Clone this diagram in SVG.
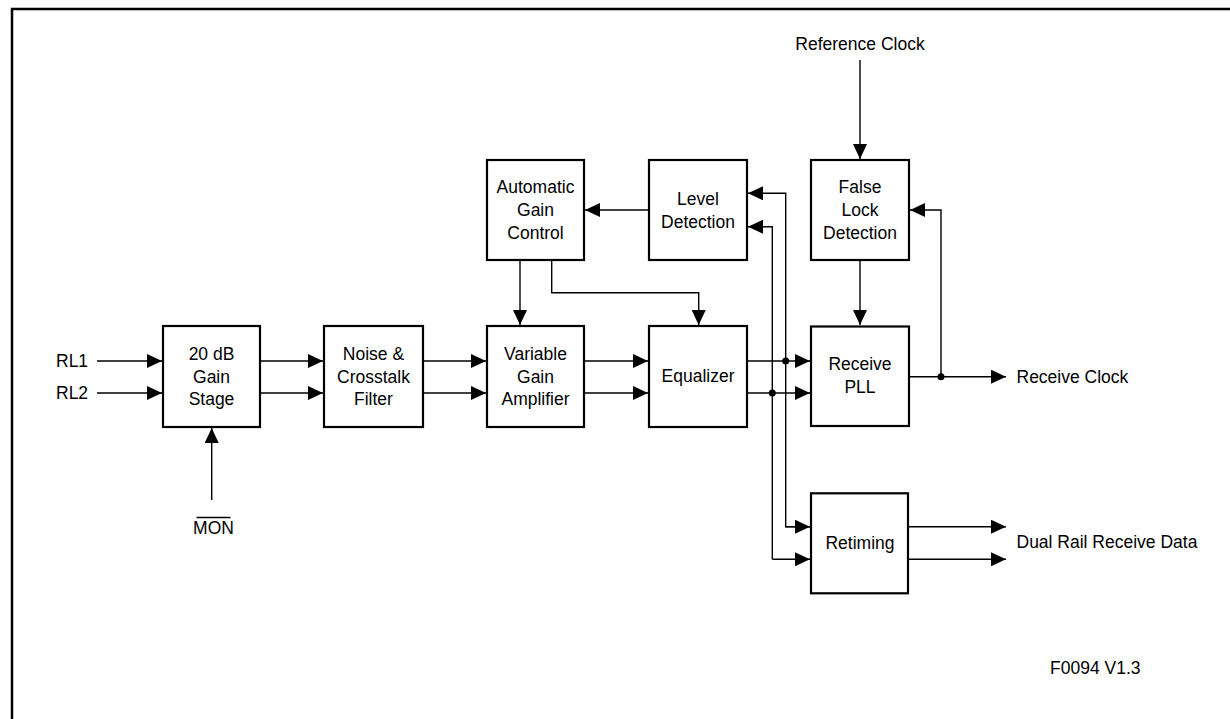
<svg xmlns="http://www.w3.org/2000/svg" width="1230" height="719" viewBox="0 0 1230 719">
<style>
text{font-family:"Liberation Sans",Arial,sans-serif;font-size:17.5px;fill:#000}
.c{text-anchor:middle}
.box{fill:#fff;stroke:#000;stroke-width:2.2}
.ln{fill:none;stroke:#000;stroke-width:1.4}
</style>
<defs>
<marker id="ah" markerUnits="userSpaceOnUse" markerWidth="16" markerHeight="14" refX="15" refY="7" orient="auto">
<path d="M0,0 L15,7 L0,14 z" fill="#000"/>
</marker>
</defs>
<rect x="0" y="0" width="1230" height="719" fill="#fff"/>
<rect x="12" y="9" width="1240" height="740" fill="none" stroke="#000" stroke-width="2.5"/>

<g id="connectors">
<path class="ln" d="M97,361H162" marker-end="url(#ah)"/>
<path class="ln" d="M97,393H162" marker-end="url(#ah)"/>
<path class="ln" d="M260,361H323" marker-end="url(#ah)"/>
<path class="ln" d="M260,393H323" marker-end="url(#ah)"/>
<path class="ln" d="M423,361H486" marker-end="url(#ah)"/>
<path class="ln" d="M423,393H486" marker-end="url(#ah)"/>
<path class="ln" d="M584,361H648" marker-end="url(#ah)"/>
<path class="ln" d="M584,393H648" marker-end="url(#ah)"/>
<path class="ln" d="M747,361H810" marker-end="url(#ah)"/>
<path class="ln" d="M747,393H810" marker-end="url(#ah)"/>
<path class="ln" d="M211.7,500V428" marker-end="url(#ah)"/>
<path class="ln" d="M649,210H585" marker-end="url(#ah)"/>
<path class="ln" d="M520,260V325" marker-end="url(#ah)"/>
<path class="ln" d="M551.7,260V292.7H698.7V325" marker-end="url(#ah)"/>
<path class="ln" d="M811,526.7H785.7V193.3H748" marker-end="url(#ah)"/>
<path class="ln" d="M785.7,526.7H810" marker-end="url(#ah)"/>
<path class="ln" d="M772.3,559.3V226.7H748" marker-end="url(#ah)"/>
<path class="ln" d="M772.3,559.3H810" marker-end="url(#ah)"/>
<path class="ln" d="M860,60V159" marker-end="url(#ah)"/>
<path class="ln" d="M860,260V325" marker-end="url(#ah)"/>
<path class="ln" d="M909,376.7H1006" marker-end="url(#ah)"/>
<path class="ln" d="M941,376.7V210H910" marker-end="url(#ah)"/>
<path class="ln" d="M908,526.7H1006" marker-end="url(#ah)"/>
<path class="ln" d="M908,559.3H1006" marker-end="url(#ah)"/>
<circle cx="785.7" cy="361" r="3.5" fill="#000"/>
<circle cx="772.3" cy="393" r="3.5" fill="#000"/>
<circle cx="941" cy="376.7" r="3.5" fill="#000"/>
</g>

<g id="gain-stage">
<rect class="box" x="163" y="326" width="97" height="101"/>
<text class="c" x="211.5" y="360">20 dB</text>
<text class="c" x="211.5" y="382.5">Gain</text>
<text class="c" x="211.5" y="405">Stage</text>
</g>
<g id="noise-filter">
<rect class="box" x="324" y="326" width="99" height="101"/>
<text class="c" x="373.5" y="360">Noise &amp;</text>
<text class="c" x="373.5" y="382.5">Crosstalk</text>
<text class="c" x="373.5" y="405">Filter</text>
</g>
<g id="vga">
<rect class="box" x="487" y="326" width="97" height="101"/>
<text class="c" x="535.5" y="360">Variable</text>
<text class="c" x="535.5" y="382.5">Gain</text>
<text class="c" x="535.5" y="405">Amplifier</text>
</g>
<g id="equalizer">
<rect class="box" x="649" y="326" width="98" height="101"/>
<text class="c" x="698" y="382">Equalizer</text>
</g>
<g id="agc">
<rect class="box" x="487" y="160" width="97" height="100"/>
<text class="c" x="535.5" y="193.3">Automatic</text>
<text class="c" x="535.5" y="216">Gain</text>
<text class="c" x="535.5" y="238.7">Control</text>
</g>
<g id="level-detection">
<rect class="box" x="649" y="160" width="98" height="100"/>
<text class="c" x="698" y="205">Level</text>
<text class="c" x="698" y="227.5">Detection</text>
</g>
<g id="false-lock">
<rect class="box" x="811" y="160" width="98" height="100"/>
<text class="c" x="860" y="193.3">False</text>
<text class="c" x="860" y="216">Lock</text>
<text class="c" x="860" y="238.7">Detection</text>
</g>
<g id="receive-pll">
<rect class="box" x="811" y="326.5" width="98" height="99.5"/>
<text class="c" x="860" y="370">Receive</text>
<text class="c" x="860" y="393">PLL</text>
</g>
<g id="retiming">
<rect class="box" x="811" y="493.3" width="97" height="100"/>
<text class="c" x="860" y="548.5">Retiming</text>
</g>

<g id="labels">
<text x="56" y="367">RL1</text>
<text x="56" y="399">RL2</text>
<text class="c" x="860" y="50">Reference Clock</text>
<text x="1016.5" y="382.5">Receive Clock</text>
<text x="1016.5" y="548">Dual Rail Receive Data</text>
<text x="1050" y="674">F0094 V1.3</text>
<text class="c" x="213.5" y="534">MON</text>
<line x1="196.5" y1="517.5" x2="230.5" y2="517.5" stroke="#000" stroke-width="1.3"/>
</g>
</svg>
